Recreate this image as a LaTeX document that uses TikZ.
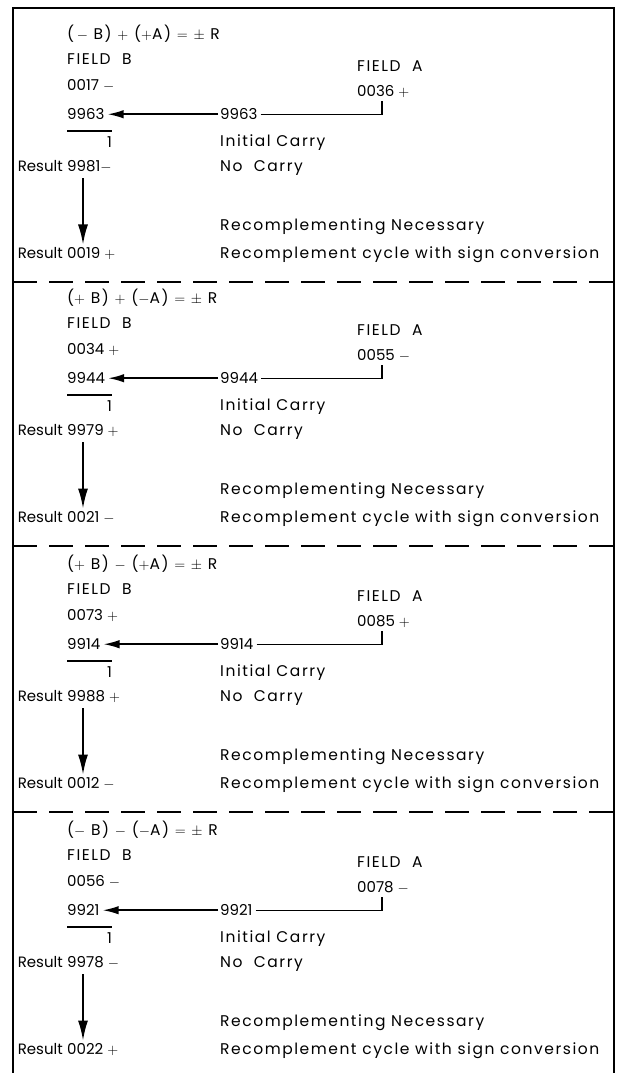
\documentclass[tikz,border=0pt]{standalone}
\usepackage{fontspec}
\setmainfont{Poppins}
\newfontfamily\spaced[LetterSpace=10]{Poppins}
\usetikzlibrary{arrows.meta,calc}
\newcommand\fs{\fontsize{15.5}{18}\spaced}
\newcommand\fn{\fontsize{15}{18}\selectfont}
\tikzset{
  t/.style={anchor=mid west, inner sep=0pt, font=\fs},
  n/.style={anchor=mid west, inner sep=0pt, font=\fn},
  harrow/.style={line width=1.7pt, -{Latex[length=16pt,width=8.5pt]}, shorten >=3pt, shorten <=2pt},
  varrow/.style={line width=1.8pt, -{Latex[length=20pt,width=10pt]}},
  link/.style={line width=1.3pt, shorten <=3pt},
  bar/.style={line width=1.6pt},
  frame/.style={line width=1.3pt},
  divider/.style={line width=1.2pt, dash pattern=on 24pt off 12pt}
}
\newcommand\drawpanel[8]{%
\begin{scope}[shift={(0,#1)}]
\node[t] (#2t) at (67,37) {#3};
\node[t] (#2fb) at (67,62) {FIELD\ \ B};
\node[t] (#2fa) at (357,69) {FIELD\ \ A};
\node[n] (#2b) at (67,88) {#4};
\node[n] (#2a) at (357,94) {#5};
\node[n] (#2cl) at (67,117) {#6};
\node[n] (#2cm) at (220,117) {#6};
\node[n,anchor=mid east] (#2one) at (112,145) {1};
\node[t] (#2ic) at (220,144) {Initial Carry};
\node[n,anchor=mid east] (#2rl) at (63,169) {Result};
\node[n] (#2r) at (67,169) {#7};
\node[t] (#2nc) at (220,169) {No\ \ Carry};
\node[t] (#2rn) at (220,228) {Recomplementing Necessary};
\node[n,anchor=mid east] (#2fl) at (63,256) {Result};
\node[n] (#2f) at (67,256) {#8};
\node[t] (#2rc) at (220,256) {Recomplement cycle with sign conversion};
\coordinate (#2up) at ([xshift=25pt,yshift=-3pt]#2a.south west);
\draw[harrow] (#2cm.west) -- (#2cl.east);
\draw[link] (#2cm.east) -- (#2cm.east -| #2up) -- (#2up);
\draw[bar] ([yshift=-11pt]#2cl.south west) -- ([yshift=-11pt]#2cl.south west -| #2one.east);
\draw[varrow] ([xshift=16pt,yshift=-5pt]#2r.south west) -- ([xshift=16pt,yshift=3pt]#2f.north west);
\end{scope}}
\begin{document}
\begin{tikzpicture}[x=1pt,y=-1pt]
\useasboundingbox (0,0) rectangle (621,1073);
\draw[frame] (13,1073) -- (13,8) -- (614,8) -- (614,1073);
\draw[divider] (13,282) -- (614,282);
\draw[divider] (13,546) -- (614,546);
\draw[divider] (13,812) -- (614,812);
\drawpanel{0}{p1}{(\,$-$ B) $+$ ($+$A) $=$ $\pm$ R}{0017 $-$}{0036 $+$}{9963}{9981$-$}{0019 $+$}
\drawpanel{264}{p2}{($+$ B) $+$ ($-$A) $=$ $\pm$ R}{0034 $+$}{0055 $-$}{9944}{9979 $+$}{0021 $-$}
\drawpanel{530}{p3}{($+$ B) $-$ ($+$A) $=$ $\pm$ R}{0073 $+$}{0085 $+$}{9914}{9988 $+$}{0012 $-$}
\drawpanel{796}{p4}{($-$ B) $-$ ($-$A) $=$ $\pm$ R}{0056 $-$}{0078 $-$}{9921}{9978 $-$}{0022 $+$}
\end{tikzpicture}
\end{document}
